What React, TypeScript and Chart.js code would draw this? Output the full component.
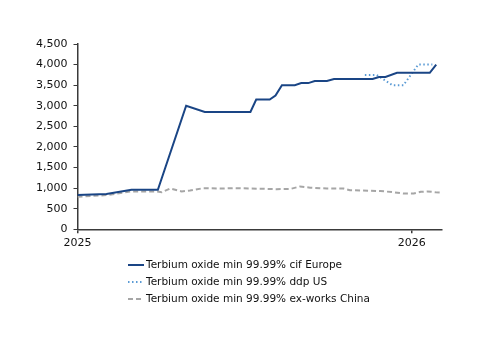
import React, { useEffect, useRef } from "react";
import { Chart, registerables } from "chart.js";

Chart.register(...registerables);

// x values are weeks since 1 Jan 2025
const europeWeeks = [0, 4.5, 8.4, 12.5, 16.9, 19.8, 26.9, 27.8, 29.9, 30.8, 31.8, 33.8, 34.8, 35.9, 36.9, 38.8, 39.9, 45.9, 46.9, 47.9, 49.7, 54.8, 55.8];
const europeValues = [830, 860, 960, 960, 3000, 2850, 2850, 3150, 3150, 3250, 3500, 3500, 3550, 3550, 3600, 3600, 3650, 3650, 3700, 3700, 3800, 3800, 4000];

const usWeeks = [44.7, 46.5, 49.0, 50.7, 53.0, 55.2];
const usValues = [3750, 3750, 3500, 3500, 4000, 4000];

const chinaWeeks = [0, 4.5, 8.2, 12.3, 13.1, 14.4, 16.2, 17.5, 19.6, 22.2, 24.2, 26.9, 31.0, 33.1, 34.6, 36.2, 38.8, 41.4, 42.4, 47.1, 49.2, 50.7, 52.3, 53.4, 54.4, 55.7, 56.6];
const chinaValues = [790, 830, 920, 920, 900, 990, 920, 940, 1000, 990, 1000, 990, 975, 980, 1040, 1010, 990, 990, 950, 930, 900, 870, 870, 910, 920, 900, 890];

const seriesLabels = [
  "Terbium oxide min 99.99% cif Europe",
  "Terbium oxide min 99.99% ddp US",
  "Terbium oxide min 99.99% ex-works China",
];

const xTickWeeks = [0, 52];
const xTickLabels = ["2025", "2026"];
const yMin = 0;
const yMax = 4500;
const yStep = 500;

const FONT = "'DejaVu Sans', sans-serif";
const AXIS = "#3a3a3a";

const toPoints = (xs: number[], ys: number[]) => xs.map((x, i) => ({ x, y: ys[i] }));

const legendPlugin = {
  id: "stackedLegend",
  afterDraw(chart: any) {
    const ctx = chart.ctx as CanvasRenderingContext2D;
    const rows = [265, 282, 299];
    ctx.save();
    chart.data.datasets.forEach((ds: any, i: number) => {
      const y = rows[i];
      ctx.beginPath();
      ctx.setLineDash(ds.borderDash || []);
      ctx.strokeStyle = ds.borderColor;
      ctx.lineWidth = ds.borderWidth;
      ctx.moveTo(128, y);
      ctx.lineTo(144, y);
      ctx.stroke();
      ctx.setLineDash([]);
      ctx.fillStyle = "#111";
      ctx.font = `10.5px ${FONT}`;
      ctx.textBaseline = "middle";
      ctx.textAlign = "left";
      ctx.fillText(ds.label, 146, y);
    });
    ctx.restore();
  },
};

export default function App() {
  const ref = useRef<HTMLCanvasElement | null>(null);

  useEffect(() => {
    if (!ref.current) return;
    const chart = new Chart(ref.current, {
      type: "line",
      data: {
        datasets: [
          {
            label: seriesLabels[0],
            data: toPoints(europeWeeks, europeValues),
            borderColor: "#1a4585",
            borderWidth: 2,
            pointRadius: 0,
            tension: 0,
          },
          {
            label: seriesLabels[1],
            data: toPoints(usWeeks, usValues),
            borderColor: "#5b9bd5",
            borderWidth: 2,
            borderDash: [1.5, 2.5],
            pointRadius: 0,
            tension: 0,
          },
          {
            label: seriesLabels[2],
            data: toPoints(chinaWeeks, chinaValues),
            borderColor: "#a6a6a6",
            borderWidth: 2,
            borderDash: [5, 3],
            pointRadius: 0,
            tension: 0,
          },
        ],
      },
      options: {
        responsive: false,
        animation: false,
        layout: { padding: { top: 44, right: 58, left: 0, bottom: 0 } },
        plugins: {
          legend: { display: false },
          tooltip: { enabled: false },
        },
        scales: {
          x: {
            type: "linear",
            min: 0,
            max: 56.7,
            afterBuildTicks: (scale: any) => {
              scale.ticks = xTickWeeks.map((v) => ({ value: v }));
            },
            afterFit: (scale: any) => {
              scale.height = 124.7;
            },
            ticks: {
              autoSkip: false,
              maxRotation: 0,
              padding: 3,
              color: "#111",
              font: { family: FONT, size: 11 },
              callback: (v: any) => {
                const idx = xTickWeeks.indexOf(Number(v));
                return idx >= 0 ? xTickLabels[idx] : "";
              },
            },
            grid: { drawOnChartArea: false, drawTicks: true, tickLength: 4, color: AXIS, lineWidth: 1.5 },
            border: { display: true, color: AXIS, width: 1.5 },
          },
          y: {
            min: yMin,
            max: yMax,
            afterFit: (scale: any) => {
              scale.width = 77.5;
            },
            ticks: {
              stepSize: yStep,
              padding: 6,
              color: "#111",
              font: { family: FONT, size: 11 },
              callback: (v: any) => Number(v).toLocaleString("en-US"),
            },
            grid: { drawOnChartArea: false, drawTicks: true, tickLength: 4, color: AXIS, lineWidth: 1 },
            border: { display: true, color: AXIS, width: 1.5 },
          },
        },
      },
      plugins: [legendPlugin],
    });
    return () => chart.destroy();
  }, []);

  return (
    <div style={{ position: "absolute", left: 0, top: 0, width: 500, height: 354, background: "#fff" }}>
      <canvas ref={ref} width={500} height={354} />
    </div>
  );
}
